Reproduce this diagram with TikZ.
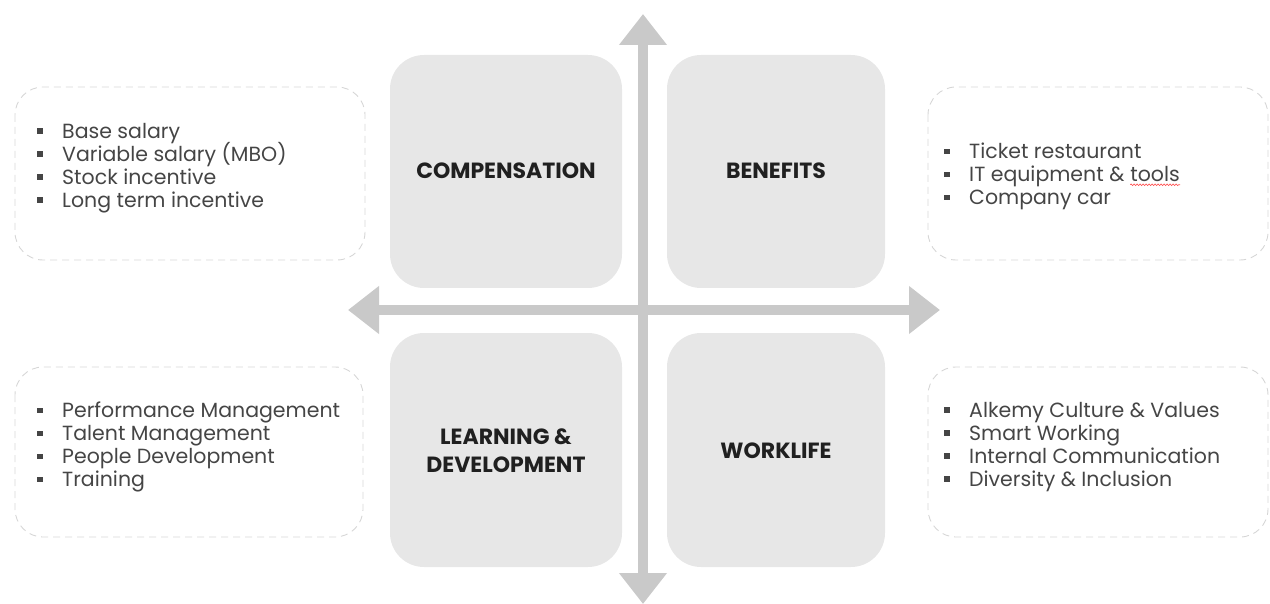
\documentclass[tikz,border=0pt]{standalone}
\usepackage{fontspec}
\setmainfont{Poppins}
\usetikzlibrary{arrows.meta,decorations.pathmorphing}
\definecolor{boxgray}{HTML}{E7E7E7}
\definecolor{arrowgray}{HTML}{C9C9C9}
\definecolor{dashgray}{HTML}{D6D6D6}
\definecolor{listtext}{HTML}{454545}
\definecolor{headtext}{HTML}{202020}
\tikzset{
  quad/.style={fill=boxgray, draw=none, rounded corners=34pt},
  listbox/.style={draw=dashgray, dashed, dash pattern=on 7pt off 5pt, line width=0.9pt, rounded corners=28pt},
  head/.style={font=\fontsize{22}{28}\selectfont\bfseries, text=headtext, align=center},
  items/.style={font=\fontsize{20.5}{23}\selectfont\setlength{\lineskiplimit}{-20pt}, text=listtext, anchor=north west, align=left, inner sep=0pt},
  axis/.style={draw=arrowgray, line width=10pt, {Triangle[width=46pt,length=31pt]}-{Triangle[width=46pt,length=31pt]}},
  squig/.style={draw=red!70, line width=0.6pt, decorate, decoration={snake, amplitude=0.8pt, segment length=3pt}}
}
\newcommand{\bul}{\makebox[25pt][l]{\rule[0.22em]{5.5pt}{5.5pt}}}
\newcommand{\spellmark}[1]{\tikz[baseline=(sw.base)]{\node[inner sep=0pt] (sw) {#1}; \draw[squig] ([yshift=-3pt]sw.base west) -- ([yshift=-3pt]sw.base east);}}
\begin{document}
\begin{tikzpicture}[x=1pt,y=-1pt]
\useasboundingbox (0,0) rectangle (1270,604);
% axes
\coordinate (vtop) at (643,14);
\coordinate (vbot) at (643,604);
\coordinate (hl) at (348,310);
\coordinate (hr) at (940,310);
\draw[axis] (vbot) -- (vtop);
\draw[axis] (hl) -- (hr);
% quadrant boxes
\fill[quad] (390,55) rectangle (622,288);
\fill[quad] (667,55) rectangle (885,288);
\fill[quad] (390,333) rectangle (622,567);
\fill[quad] (667,333) rectangle (885,567);
\node[head] (comp) at (506,171) {COMPENSATION};
\node[head] (ben) at (776,171) {BENEFITS};
\node[head] (ld) at (506,451) {LEARNING \&\\DEVELOPMENT};
\node[head] (wl) at (776,451) {WORKLIFE};
% dashed list boxes
\draw[listbox] (15,87) rectangle (365,260);
\draw[listbox] (928,87) rectangle (1268,260);
\draw[listbox] (15,367) rectangle (363,537);
\draw[listbox] (928,367) rectangle (1268,537);
% lists
\node[items] (l1) at (37,123) {\bul Base salary\\\bul Variable salary (MBO)\\\bul Stock incentive\\\bul Long term incentive};
\node[items] (l2) at (944,143) {\bul Ticket restaurant\\\bul IT equipment \& \spellmark{tools}\\\bul Company car};
\node[items] (l3) at (37,402) {\bul Performance Management\\\bul Talent Management\\\bul People Development\\\bul Training};
\node[items] (l4) at (944,402) {\bul Alkemy Culture \& Values\\\bul Smart Working\\\bul Internal Communication\\\bul Diversity \& Inclusion};
\end{tikzpicture}
\end{document}
